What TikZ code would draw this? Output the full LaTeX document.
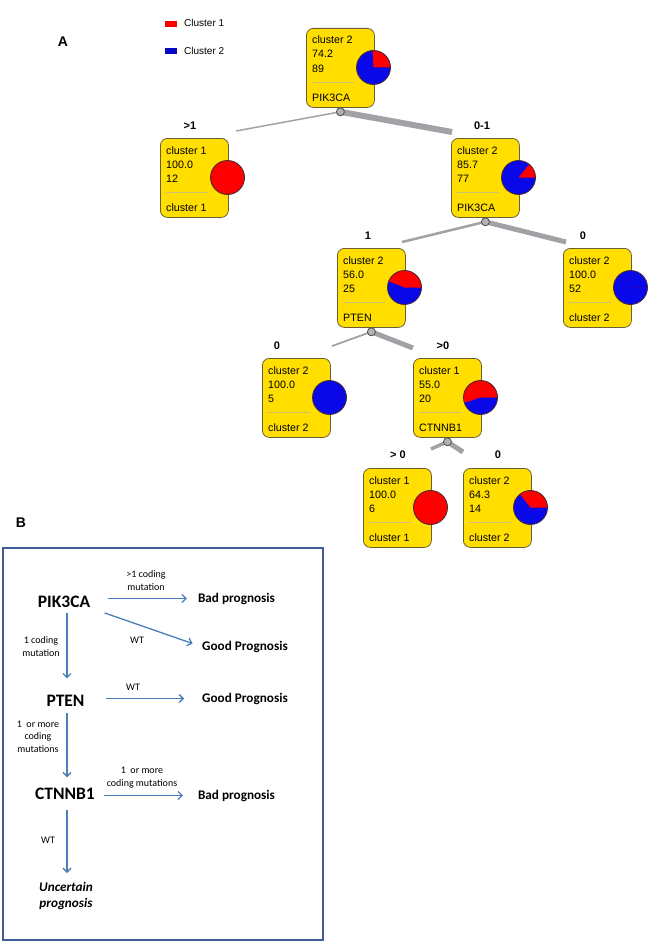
\documentclass[tikz,border=0pt]{standalone}
\usepackage{fontspec}
\setmainfont{Liberation Sans}
\newfontfamily\calibri{Carlito}
\usetikzlibrary{arrows.meta}
\definecolor{boxfill}{RGB}{255,222,0}
\definecolor{boxline}{RGB}{105,95,55}
\definecolor{sepgray}{RGB}{205,190,120}
\definecolor{clred}{RGB}{255,0,0}
\definecolor{clblue}{RGB}{8,8,232}
\definecolor{pieline}{RGB}{70,45,45}
\definecolor{edgegray}{RGB}{162,162,166}
\definecolor{flowblue}{RGB}{74,126,187}
\definecolor{frameblue}{RGB}{62,92,150}
\begin{document}
\begin{tikzpicture}[>={Straight Barb[length=4pt,width=8pt]},x=1pt,y=-1pt]
    \tikzset{
        clusterbox/.style={draw=boxline,fill=boxfill,rounded corners=7pt,anchor=north west,
            minimum width=68pt,minimum height=79pt,inner sep=0pt,line width=0.8pt},
        leaftext/.style={anchor=base west,inner sep=0pt,font=\fontsize{10.7}{12}\selectfont},
        sepline/.style={sepgray,line width=1pt},
        splitdot/.style={circle,draw=black!70,fill=black!30,minimum size=8pt,inner sep=0pt,line width=0.8pt},
        treeedge/.style={edgegray},
        branch/.style={font=\bfseries\fontsize{11}{13}\selectfont,inner sep=1pt},
        panel/.style={font=\bfseries\fontsize{14}{16}\selectfont,inner sep=0pt},
        gene/.style={anchor=base,inner sep=1pt,font=\calibri\bfseries\fontsize{17.5}{20}\selectfont},
        outcome/.style={anchor=base,inner sep=1pt,font=\calibri\bfseries\fontsize{13.2}{16}\selectfont},
        cond/.style={anchor=base,inner sep=1pt,align=center,font=\calibri\fontsize{10}{12.5}\selectfont},
        flow/.style={->,flowblue,line width=1.3pt},
        pics/leaf/.style n args={5}{code={
            \node[clusterbox] (-box) at (0,0) {};
            \node[leaftext] (-l1) at (6,16) {#1};
            \node[leaftext] (-l2) at (6,30) {#2};
            \node[leaftext] (-l3) at (6,44) {#3};
            \draw[sepline] (6,54) -- (48,54);
            \node[leaftext] (-l4) at (6,73) {#4};
            \fill[clblue] (67.5,39.5) circle[radius=17];
            \fill[clred] (67.5,39.5) -- ++(0:17) arc[start angle=0,end angle=-360*#5,radius=17] -- cycle;
            \draw[pieline,line width=0.8pt] (67.5,39.5) circle[radius=17];
        }}
    }
    \useasboundingbox (0,0) rectangle (650,942);
    % panel A
    \node[panel] (labA) at (63,42) {A};
    \fill[clred] (165,21) rectangle (177,27);
    \node[anchor=west,inner sep=0pt,font=\fontsize{10}{12}\selectfont] (leg1) at (184,23) {Cluster 1};
    \fill[clblue!85!black] (165,48) rectangle (177,54);
    \node[anchor=west,inner sep=0pt,font=\fontsize{10}{12}\selectfont] (leg2) at (184,51) {Cluster 2};
    \pic (root) at (306,28) {leaf={cluster 2}{74.2}{89}{PIK3CA}{0.258}};
    \pic (n1) at (160,138) {leaf={cluster 1}{100.0}{12}{cluster 1}{1}};
    \pic (n2) at (451,138) {leaf={cluster 2}{85.7}{77}{PIK3CA}{0.143}};
    \pic (n21) at (337,248) {leaf={cluster 2}{56.0}{25}{PTEN}{0.44}};
    \pic (n22) at (563,248) {leaf={cluster 2}{100.0}{52}{cluster 2}{0}};
    \pic (n211) at (262,358) {leaf={cluster 2}{100.0}{5}{cluster 2}{0}};
    \pic (n212) at (413,358) {leaf={cluster 1}{55.0}{20}{CTNNB1}{0.55}};
    \pic (n2121) at (363,468) {leaf={cluster 1}{100.0}{6}{cluster 1}{1}};
    \pic (n2122) at (463,468) {leaf={cluster 2}{64.3}{14}{cluster 2}{0.357}};
    \node[branch] (b1) at (190,126) {>1};
    \node[branch] (b2) at (482,126) {0-1};
    \node[branch] (b21) at (368,236) {1};
    \node[branch] (b22) at (583,236) {0};
    \node[branch] (b211) at (277,346) {0};
    \node[branch] (b212) at (443,346) {>0};
    \node[branch] (b2121) at (398,455) {> 0};
    \node[branch] (b2122) at (498,455) {0};
    \coordinate (root-fork) at ([yshift=-4pt]root-box.south);
    \coordinate (n2-fork) at ([yshift=-4pt]n2-box.south);
    \coordinate (n21-fork) at ([yshift=-4pt]n21-box.south);
    \coordinate (n212-fork) at ([yshift=-4pt]n212-box.south);
    \coordinate (n1-in) at (236,131);
    \coordinate (n2-in) at (452,132);
    \coordinate (n21-in) at (402,242);
    \coordinate (n22-in) at (566,242);
    \coordinate (n211-in) at (332,346);
    \coordinate (n212-in) at (413,348);
    \coordinate (n2121-in) at (431,449);
    \coordinate (n2122-in) at (463,452);
    \draw[treeedge,line width=1.5pt] (root-fork) -- (n1-in);
    \draw[treeedge,line width=6pt] (root-fork) -- (n2-in);
    \draw[treeedge,line width=2.5pt] (n2-fork) -- (n21-in);
    \draw[treeedge,line width=5pt] (n2-fork) -- (n22-in);
    \draw[treeedge,line width=1.8pt] (n21-fork) -- (n211-in);
    \draw[treeedge,line width=5pt] (n21-fork) -- (n212-in);
    \draw[treeedge,line width=3.5pt] (n212-fork) -- (n2121-in);
    \draw[treeedge,line width=5pt] (n212-fork) -- (n2122-in);
    \node[splitdot] (root-split) at (root-fork) {};
    \node[splitdot] (n2-split) at (n2-fork) {};
    \node[splitdot] (n21-split) at (n21-fork) {};
    \node[splitdot] (n212-split) at (n212-fork) {};
    % panel B
    \node[panel] (labB) at (21,523) {B};
    \draw[frameblue,line width=1.5pt] (3,548) rectangle (323,940);
    \node[gene] (pik) at (64,607) {PIK3CA};
    \node[gene] (pten) at (65.5,706) {PTEN};
    \node[gene] (ctnnb) at (65,799) {CTNNB1};
    \node[outcome] (bad1) at (236.5,602) {Bad prognosis};
    \node[outcome] (good1) at (245,650) {Good Prognosis};
    \node[outcome] (good2) at (245,702) {Good Prognosis};
    \node[outcome] (bad2) at (236.5,799) {Bad prognosis};
    \node[outcome,align=center,font=\calibri\bfseries\itshape\fontsize{13.2}{15.5}\selectfont] (unc) at (66,907) {Uncertain\\prognosis};
    \draw[flow,shorten <=17pt,shorten >=10pt] (bad1.west -| pik.east) -- (bad1.west);
    \draw[flow,shorten <=14pt,shorten >=9pt] (pik.south east) -- (good1.west);
    \draw[flow,shorten <=5pt,shorten >=15pt] ([xshift=3pt]pik.south) -- ([xshift=1.5pt]pten.north);
    \draw[flow,shorten <=20pt,shorten >=17pt] (good2.west -| pten.east) -- (good2.west);
    \draw[flow,shorten <=6pt,shorten >=9pt] ([xshift=1.5pt]pten.south) -- ([xshift=2pt]ctnnb.north);
    \draw[flow,shorten <=8pt,shorten >=14pt] (bad2.west -| ctnnb.east) -- (bad2.west);
    \draw[flow,shorten <=10pt,shorten >=8pt] ([xshift=2pt]ctnnb.south) -- ([xshift=1pt]unc.north);
    \node[cond] (c1) at (146,590) {>1 coding\\mutation};
    \node[cond] (c2) at (137,643) {WT};
    \node[cond] (c3) at (41,656) {1 coding\\mutation};
    \node[cond] (c4) at (133,690) {WT};
    \node[cond] (c5) at (38,752) {1\ \ or more\\coding\\mutations};
    \node[cond] (c6) at (142,786) {1\ \ or more\\coding mutations};
    \node[cond] (c7) at (48,843) {WT};
\end{tikzpicture}
\end{document}
